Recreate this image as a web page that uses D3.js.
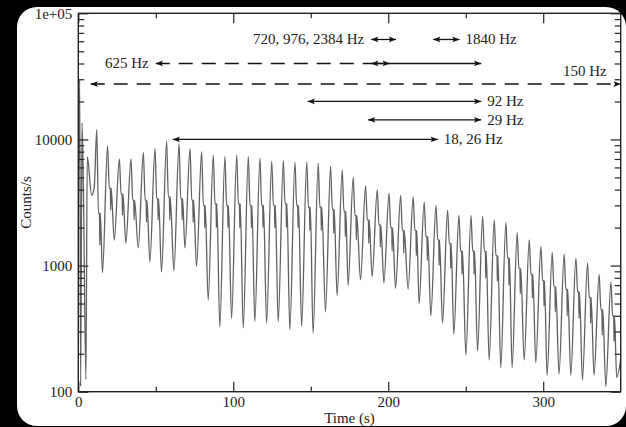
<!DOCTYPE html>
<html><head><meta charset="utf-8">
<script src="https://cdn.jsdelivr.net/npm/d3@7"></script>
<style>html,body{margin:0;padding:0;background:#000;overflow:hidden;} svg{display:block;}</style>
</head><body>
<svg id="c" width="626" height="427"></svg>
<script>
// ---- data ----
const earlyTime   = [0, 0.9, 1.5, 2.4, 3.3, 4.9, 5.8, 8.6, 10.3];
const earlyCounts = [3000, 30000, 110, 13500, 4000, 125, 7300, 3600, 4200];

const peakTime = [11.9, 18.9, 26.5, 34.0, 42.0, 49.5, 57.0, 65.0, 72.1, 79.6,
  87.1, 94.6, 102.2, 109.7, 117.2, 124.8, 132.3, 139.8, 147.4, 154.8,
  162.8, 170.3, 177.4, 185.4, 192.9, 200.5, 208.0, 216.1, 223.2, 230.8,
  238.3, 245.6, 253.4, 260.9, 268.4, 275.9, 283.2, 291.0, 298.5, 305.8,
  313.5, 321.1, 328.6, 336.1, 343.7];
const peakCounts = [12000, 8900, 7000, 7000, 7900, 8500, 9700, 9200, 8500, 8000,
  7500, 7300, 7500, 7300, 7100, 6700, 6800, 6600, 6600, 6500,
  6100, 5700, 5000, 4300, 4000, 3750, 3600, 3500, 3200, 3000,
  2750, 2500, 2500, 2450, 2300, 2200, 1820, 1600, 1420, 1270,
  1230, 1150, 1050, 850, 740];
const shoulderCounts = [2600, 4100, 3700, 3300, 3300, 3400, 3500, 3400, 3300, 3000,
  3100, 3000, 3100, 3000, 3000, 3000, 3100, 3000, 2900, 2900,
  2800, 2700, 2500, 2300, 2100, 2000, 1900, 1900, 1700, 1600,
  1500, 1300, 1300, 1300, 1200, 1150, 950, 850, 760, 680,
  650, 620, 560, 450, 400];
const notchCounts = [1450, 2750, 2500, 2300, 2200, 2300, 2300, 2300, 2200, 2000,
  2000, 2000, 2000, 2000, 2000, 2000, 2000, 2000, 1900, 1900,
  1800, 1700, 1600, 1500, 1400, 1300, 1250, 1200, 1100, 1000,
  950, 850, 850, 800, 750, 700, 600, 550, 480, 430,
  400, 380, 350, 280, 250];
const minCounts = [880, 1590, 1500, 1380, 1070, 890, 910, 1380, 980, 530,
  325, 380, 320, 360, 350, 360, 310, 330, 290, 430,
  580, 700, 770, 820, 730, 660, 650, 500, 400, 350,
  285, 195, 210, 178, 155, 155, 178, 170, 135, 138,
  135, 124, 135, 110, 130];
const endTime = [350];
const endCounts = [180];

const xMajorTicks = [0, 100, 200, 300];
const xMinorTicks = [50, 150, 250];
const yMajorTicks = [100, 1000, 10000, 100000];
const yTickLabels = ["100", "1000", "10000", "1e+05"];

const arrowLabels = ["720, 976, 2384 Hz", "1840 Hz", "625 Hz", "", "", "150 Hz", "92 Hz", "29 Hz", "18, 26 Hz"];
const arrowStart  = [189, 229, 50, 189, 189, 8, 148, 187, 61];
const arrowEnd    = [205, 246, 189, 201, 260, 350, 260, 260, 232];
const arrowLevel  = [62000, 62000, 40000, 40000, 40000, 27500, 20000, 14300, 10000];
const arrowDashed = [false, false, true, false, false, true, false, false, false];
const arrowHeads  = ["both", "both", "start", "both", "end", "both", "both", "both", "both"];
const labelSide   = ["left", "right", "left", "", "", "above", "right", "right", "right"];

// ---- layout ----
const svg = d3.select("#c");
const L = 78.3, R = 620.7, T = 13.3, B = 391.7;
const x = d3.scaleLinear().domain([0, 350]).range([L, R]);
const y = d3.scaleLog().domain([100, 100000]).range([B, T]);
const FONT = "'Liberation Serif', 'Times New Roman', serif";

svg.append("rect").attr("width", 626).attr("height", 427).attr("fill", "#000");
svg.append("rect").attr("x", 17).attr("y", 7).attr("width", 609).attr("height", 419)
  .attr("rx", 20).attr("fill", "#fff");

// markers
const defs = svg.append("defs");
defs.append("marker").attr("id", "ah").attr("viewBox", "0 -5 10 10")
  .attr("refX", 9).attr("refY", 0).attr("markerUnits", "userSpaceOnUse")
  .attr("markerWidth", 10).attr("markerHeight", 8).attr("orient", "auto-start-reverse")
  .append("path").attr("d", "M0,-3.6L9,0L0,3.6L2,0Z").attr("fill", "#111");
defs.append("clipPath").attr("id", "clip").append("rect")
  .attr("x", L).attr("y", T).attr("width", R - L).attr("height", B - T);

// build series
const pts = [];
earlyTime.forEach((t, i) => pts.push([t, earlyCounts[i]]));
peakTime.forEach((tp, k) => {
  pts.push([tp, peakCounts[k]]);
  pts.push([tp + 1.1, shoulderCounts[k]]);
  pts.push([tp + 1.8, shoulderCounts[k]]);
  pts.push([tp + 2.0, notchCounts[k]]);
  pts.push([tp + 2.3, shoulderCounts[k]]);
  const tn = k + 1 < peakTime.length ? peakTime[k + 1] - 3.3 : tp + 3.7;
  pts.push([tn, minCounts[k]]);
});
endTime.forEach((t, i) => pts.push([t, endCounts[i]]));

svg.append("path").datum(pts).attr("clip-path", "url(#clip)")
  .attr("fill", "none").attr("stroke", "#606060").attr("stroke-width", 1.3)
  .attr("stroke-linejoin", "round")
  .attr("d", d3.line().curve(d3.curveMonotoneX).x(d => x(d[0])).y(d => y(d[1])));

// axes
function styleAxis(g) {
  g.select(".domain").remove();
  g.selectAll("line").attr("stroke", "#222").attr("stroke-width", 1.2);
  g.selectAll("text").attr("font-family", FONT).attr("font-size", 15).attr("fill", "#222");
}
const yMinor = [];
[100, 1000, 10000].forEach(d => { for (let m = 2; m <= 9; m++) yMinor.push(d * m); });

svg.append("g").attr("transform", `translate(${L},0)`)
  .call(d3.axisLeft(y).tickValues(yMajorTicks).tickFormat((d, i) => yTickLabels[i])
    .tickSizeInner(-10).tickSizeOuter(0).tickPadding(6)).call(styleAxis);
svg.append("g").attr("transform", `translate(${L},0)`)
  .call(d3.axisLeft(y).tickValues(yMinor).tickFormat("").tickSizeInner(-6).tickSizeOuter(0)).call(styleAxis);
svg.append("g").attr("transform", `translate(${R},0)`)
  .call(d3.axisRight(y).tickValues(yMajorTicks).tickFormat("").tickSizeInner(-10).tickSizeOuter(0)).call(styleAxis);
svg.append("g").attr("transform", `translate(${R},0)`)
  .call(d3.axisRight(y).tickValues(yMinor).tickFormat("").tickSizeInner(-6).tickSizeOuter(0)).call(styleAxis);

svg.append("g").attr("transform", `translate(0,${B})`)
  .call(d3.axisBottom(x).tickValues(xMajorTicks).tickFormat(d3.format("d"))
    .tickSizeInner(-10).tickSizeOuter(0).tickPadding(5)).call(styleAxis);
svg.append("g").attr("transform", `translate(0,${B})`)
  .call(d3.axisBottom(x).tickValues(xMinorTicks).tickFormat("").tickSizeInner(-5).tickSizeOuter(0)).call(styleAxis);
svg.append("g").attr("transform", `translate(0,${T})`)
  .call(d3.axisTop(x).tickValues(xMajorTicks).tickFormat("").tickSizeInner(-10).tickSizeOuter(0)).call(styleAxis);
svg.append("g").attr("transform", `translate(0,${T})`)
  .call(d3.axisTop(x).tickValues(xMinorTicks).tickFormat("").tickSizeInner(-5).tickSizeOuter(0)).call(styleAxis);

svg.append("rect").attr("x", L).attr("y", T).attr("width", R - L).attr("height", B - T)
  .attr("fill", "none").attr("stroke", "#222").attr("stroke-width", 1.4);

// axis titles
svg.append("text").attr("x", (L + R) / 2).attr("y", 423).attr("text-anchor", "middle")
  .attr("font-family", FONT).attr("font-size", 15).attr("fill", "#222").text("Time (s)");
svg.append("text").attr("transform", `translate(31,${(T + B) / 2}) rotate(-90)`).attr("text-anchor", "middle")
  .attr("font-family", FONT).attr("font-size", 15).attr("fill", "#222").text("Counts/s");

// annotation arrows
arrowLabels.forEach((lab, i) => {
  const x0 = x(arrowStart[i]), x1 = x(arrowEnd[i]), yy = y(arrowLevel[i]);
  const ln = svg.append("line").attr("x1", x0).attr("x2", x1).attr("y1", yy).attr("y2", yy)
    .attr("stroke", "#111").attr("stroke-width", 1.3);
  if (arrowDashed[i]) ln.attr("stroke-dasharray", "14,9");
  if (arrowHeads[i] === "both" || arrowHeads[i] === "start") ln.attr("marker-start", "url(#ah)");
  if (arrowHeads[i] === "both" || arrowHeads[i] === "end") ln.attr("marker-end", "url(#ah)");
  if (!lab) return;
  const t = svg.append("text").attr("font-family", FONT).attr("font-size", 15).attr("fill", "#222").text(lab);
  if (labelSide[i] === "left") t.attr("x", x0 - 7).attr("y", yy + 5).attr("text-anchor", "end");
  else if (labelSide[i] === "right") t.attr("x", x1 + 6).attr("y", yy + 5).attr("text-anchor", "start");
  else t.attr("x", x1 - 14).attr("y", yy - 8).attr("text-anchor", "end");
});
</script>
</body></html>
